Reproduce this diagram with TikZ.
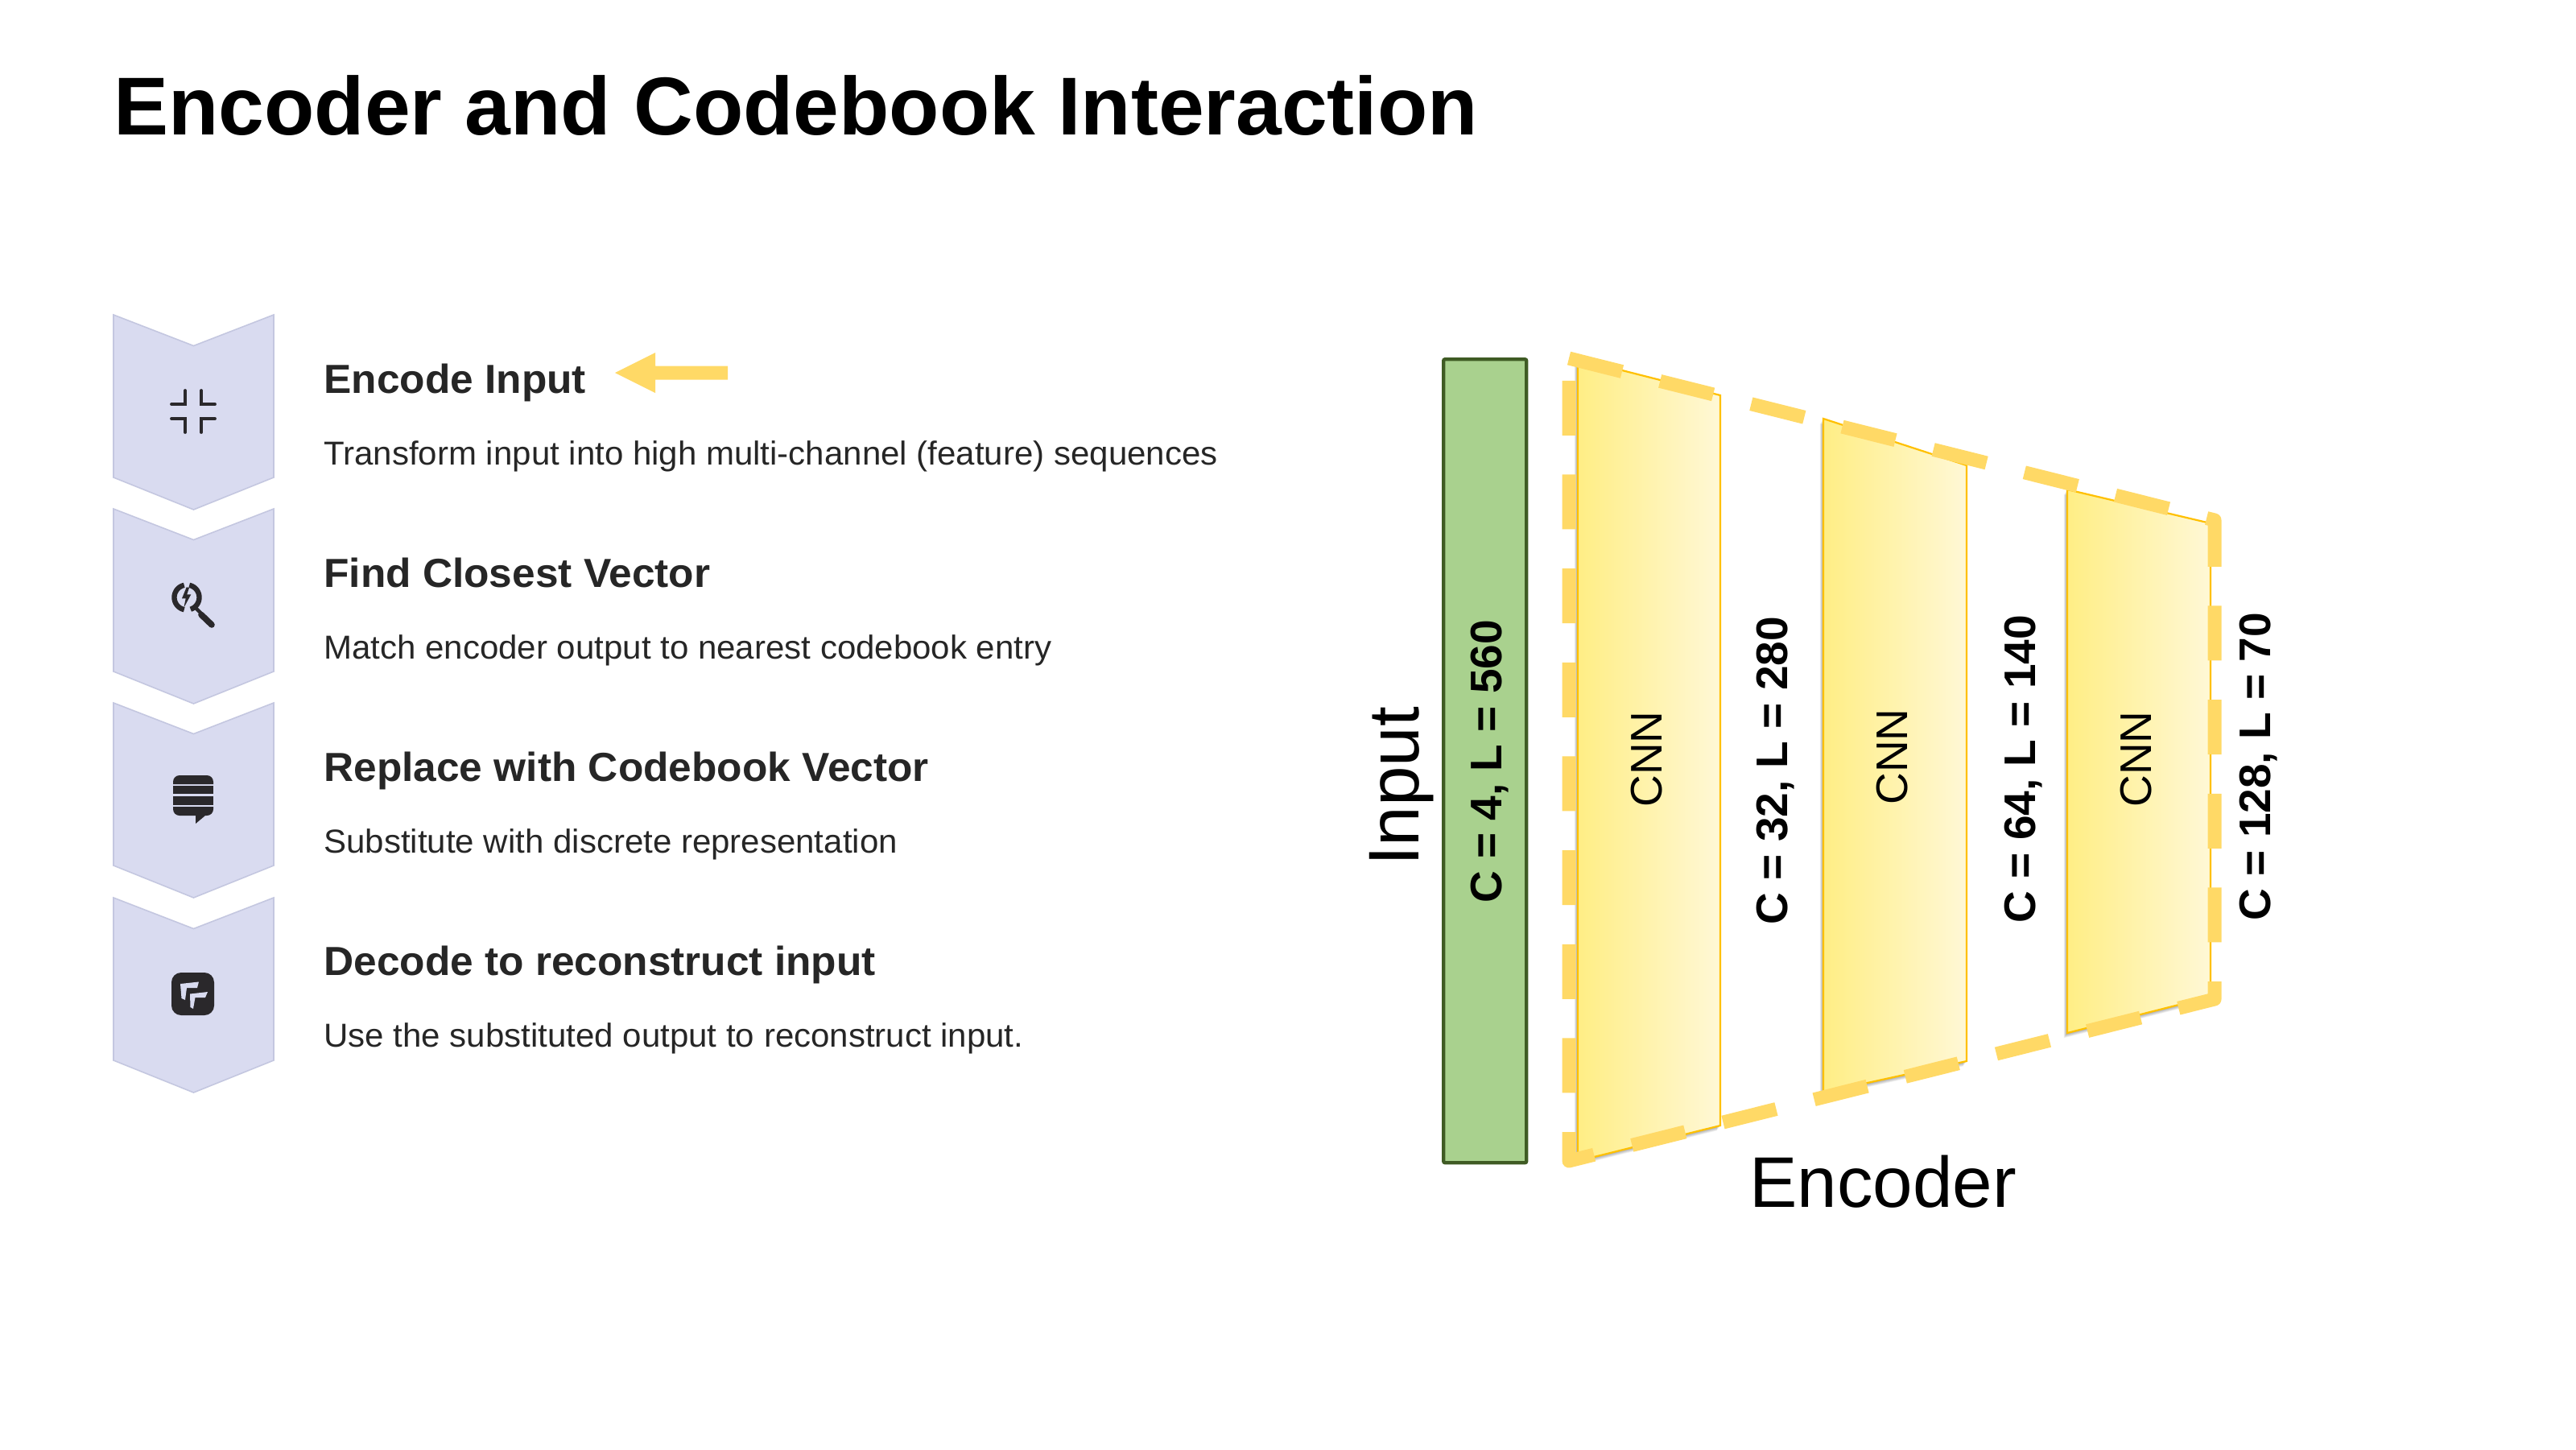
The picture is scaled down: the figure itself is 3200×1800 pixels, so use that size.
\documentclass[tikz,border=0pt]{standalone}
\usepackage{fontspec}
\setmainfont{Liberation Sans}
\newfontfamily\uifont{Liberation Sans}[FakeStretch=1.02]
\definecolor{chev}{HTML}{D9DBF0}
\definecolor{chevline}{HTML}{C4C7E0}
\definecolor{dashy}{HTML}{FFD966}
\definecolor{ink}{HTML}{262626}
\definecolor{iconink}{HTML}{2A282B}
\definecolor{cnnline}{HTML}{FFC000}
\definecolor{cnnl}{HTML}{FFEE85}
\definecolor{cnnr}{HTML}{FFF8D6}
\definecolor{greenf}{HTML}{A9D18E}
\definecolor{greenl}{HTML}{3F5B24}
\newcommand{\pxfont}[1]{\fontsize{\dimexpr #1pt*1/2\relax}{\dimexpr #1pt*3/5\relax}\selectfont}
\tikzset{
  x=0.5pt,y=-0.5pt,
  chevron/.style={fill=chev,draw=chevline,line width=0.8pt},
  head/.style={anchor=base west,inner sep=0,text=ink,font=\uifont\bfseries\fontsize{25.2pt}{30pt}\selectfont},
  body/.style={anchor=base west,inner sep=0,text=ink,font=\uifont\fontsize{20.6pt}{25pt}\selectfont},
  vlabel/.style={rotate=90,inner sep=0,text=black,font=\bfseries\pxfont{55}},
  cnntext/.style={rotate=90,inner sep=0,text=black,font=\pxfont{55}},
  bigtext/.style={inner sep=0,text=black,font=\fontsize{44.5pt}{50pt}\selectfont},
  cnnblock/.style={left color=cnnl,right color=cnnr,draw=cnnline,line width=1.1pt,line join=miter},
  icon/.style={draw=iconink,line width=1.9pt,line cap=round,fill=none},
}
\newcommand{\softshadow}[1]{%
  \foreach \d in {1,2,3,4,5,6,7}{%
    \fill[black,opacity=0.055,shift={(-0.6*\d,0.9*\d)}] #1;}%
}
\begin{document}
\begin{tikzpicture}
\useasboundingbox (0,0) rectangle (3200,1800);
\fill[white] (0,0) rectangle (3200,1800);
\node[anchor=base west,inner sep=0,text=black,font=\bfseries\fontsize{51pt}{60pt}\selectfont] (title) at (141,167) {Encoder and Codebook Interaction};
% chevrons
\foreach \n/\t in {a/391,b/632,c/873,d/1115}{
  \draw[chevron] (141,\t) -- (240.5,\t+38.5) -- (340,\t) -- (340,\t+202) -- (240.5,\t+242) -- (141,\t+202) -- cycle;
}
% texts
\node[head] (h1) at (402,488) {Encode Input};
\node[body] (b1) at (402,577) {Transform input into high multi-channel (feature) sequences};
\node[head] (h2) at (402,729) {Find Closest Vector};
\node[body] (b2) at (402,818) {Match encoder output to nearest codebook entry};
\node[head] (h3) at (402,970) {Replace with Codebook Vector};
\node[body] (b3) at (402,1059) {Substitute with discrete representation};
\node[head] (h4) at (402,1211) {Decode to reconstruct input};
\node[body] (b4) at (402,1300) {Use the substituted output to reconstruct input.};
% arrow
\fill[dashy] (764,463) -- (814,438) -- (814,454.5) -- (904,454.5) -- (904,471.5) -- (814,471.5) -- (814,488) -- cycle;
% icon 1
\draw[icon] (230,485) -- (230,502) -- (213,502);
\draw[icon] (250,485) -- (250,502) -- (267,502);
\draw[icon] (230,537) -- (230,520) -- (213,520);
\draw[icon] (250,537) -- (250,520) -- (267,520);
% icon 2
\draw[iconink,line width=3.2pt] plot[domain=102:258,samples=24] ({232+15.5*cos(\x)},{742-15.5*sin(\x)});
\draw[iconink,line width=3.2pt] plot[domain=78:-72,samples=24] ({232+15.5*cos(\x)},{742-15.5*sin(\x)});
\fill[iconink] (231.7,729.3) -- (226,743.3) -- (230.7,743.3) -- (228.3,755) -- (237.3,738.3) -- (232.3,738.3) -- (235,730) -- cycle;
\draw[iconink,line width=2.2pt] (243,755) -- (251,763);
\draw[iconink,line width=3.8pt,line cap=round] (250,763.5) -- (263,776);
% icon 3
\fill[iconink] (215,974) [rounded corners=4pt] -- (215,963) -- (265,963) [sharp corners] -- (265,974) -- cycle;
\fill[iconink] (215,976) rectangle (265,986);
\fill[iconink] (215,989) rectangle (265,1000);
\fill[iconink] (215,1002) -- (265,1002) [rounded corners=4pt] -- (265,1013) [sharp corners] -- (255,1013) -- (243,1023) -- (243,1013) [rounded corners=4pt] -- (215,1013) [sharp corners] -- cycle;
% icon 4
\fill[iconink,rounded corners=6pt] (213,1208) rectangle (266,1261);
\fill[chev] (224,1222) -- (247,1219.5) -- (245,1227) -- (232,1227) -- (230,1242) -- (225.5,1240) -- cycle;
\fill[chev] (236,1234.5) -- (258,1232) -- (255,1239) -- (242.5,1239) -- (240,1253) -- (236.5,1251) -- cycle;
% encoder
\node[draw=greenl,fill=greenf,line width=2.2pt,rounded corners=1pt,minimum width=51.5pt,minimum height=499pt,inner sep=0,anchor=north west] (inputbar) at (1791,444) {};
\def\pa{(1960,446) -- (2137,491) -- (2137,1398) -- (1960,1442) -- cycle}
\def\pb{(2265,520) -- (2443,578) -- (2443,1318) -- (2265,1357) -- cycle}
\def\pc{(2568,608) -- (2746,650) -- (2746,1238) -- (2568,1283) -- cycle}
\softshadow{\pa}
\softshadow{\pb}
\softshadow{\pc}
\draw[cnnblock] \pa;
\draw[cnnblock] \pb;
\draw[cnnblock] \pc;
\node[cnntext] (c1) at (2046,943) {CNN};
\node[cnntext] (c2) at (2351,940) {CNN};
\node[cnntext] (c3) at (2654,943) {CNN};
\draw[dashy,line width=8.5pt,line join=round,dash pattern=on 34pt off 24.33pt] (1949,445) -- (2751,646) -- (2751,1241) -- (1949,1442) -- cycle;
\node[vlabel] (l1) at (1851,946) {C = 4, L = 560};
\node[vlabel] (l2) at (2206,957) {C = 32, L = 280};
\node[vlabel] (l3) at (2514,955) {C = 64, L = 140};
\node[vlabel] (l4) at (2806,952) {C = 128, L = 70};
\node[bigtext,rotate=90] (inp) at (1741,977) {Input};
\node[bigtext,anchor=base] (enc) at (2339,1499) {Encoder};
\end{tikzpicture}
\end{document}
